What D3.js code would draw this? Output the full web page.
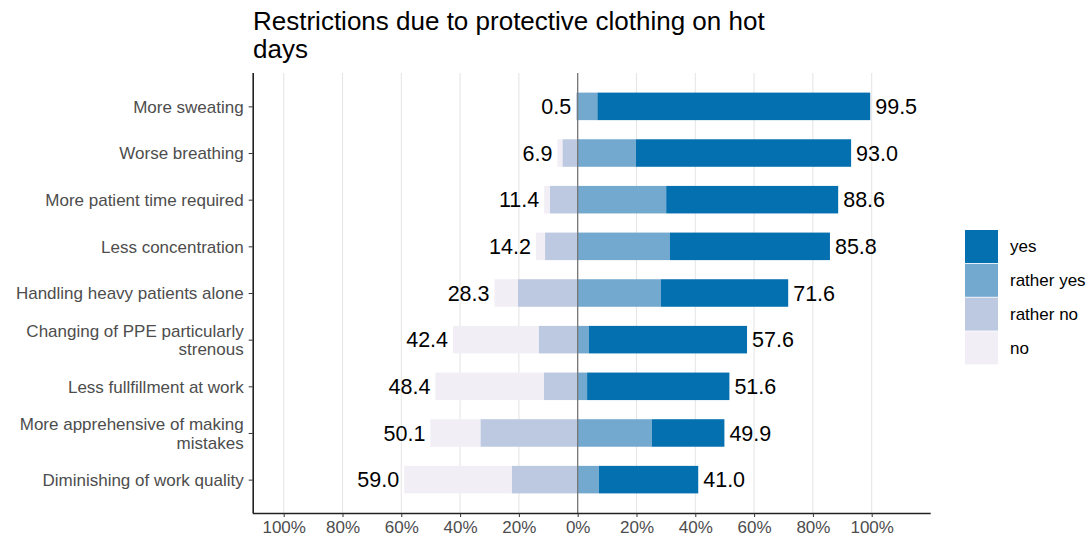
<!DOCTYPE html>
<html><head><meta charset="utf-8">
<script src="https://cdn.jsdelivr.net/npm/d3@7"></script>
<style>body{margin:0;background:#fff}svg{display:block;font-family:"Liberation Sans",Arial,sans-serif}</style>
</head><body><svg id="c" width="1091" height="543"></svg>
<script>
const categories = [
  ["More sweating"],
  ["Worse breathing"],
  ["More patient time required"],
  ["Less concentration"],
  ["Handling heavy patients alone"],
  ["Changing of PPE particularly", "strenous"],
  ["Less fullfillment at work"],
  ["More apprehensive of making", "mistakes"],
  ["Diminishing of work quality"]
];
const yes       = [92.8, 73.2, 58.5, 54.5, 43.3, 53.8, 48.4, 24.7, 33.8];
const ratherYes = [6.7, 19.8, 30.1, 31.3, 28.3, 3.8, 3.2, 25.2, 7.2];
const ratherNo  = [0.5, 5.2, 9.5, 11.1, 20.3, 13.3, 11.5, 33.1, 22.4];
const no        = [0, 1.7, 1.9, 3.1, 8.0, 29.1, 36.9, 17.0, 36.6];
const posLabels = ["99.5", "93.0", "88.6", "85.8", "71.6", "57.6", "51.6", "49.9", "41.0"];
const negLabels = ["0.5", "6.9", "11.4", "14.2", "28.3", "42.4", "48.4", "50.1", "59.0"];
const tickValues = [-100, -80, -60, -40, -20, 0, 20, 40, 60, 80, 100];
const legendLabels = ["yes", "rather yes", "rather no", "no"];
const colors = {"yes": "#0570b0", "rather yes": "#74a9cf", "rather no": "#bdc9e1", "no": "#f1eef6"};
const title = ["Restrictions due to protective clothing on hot", "days"];

const svg = d3.select("#c");
const L = 252.7, R = 930.7, T = 73, B = 513;
const x = d3.scaleLinear().domain([-110.54, 120.07]).range([L, R]);
const keys = categories.map((c, i) => i);
const y = d3.scalePoint().domain(keys).range([T, B]).padding(0.715);
const bh = y.step() * 0.59;

// title
svg.append("g").selectAll("text").data(title).join("text")
  .attr("x", 253).attr("y", (d, i) => 29.5 + i * 28.5)
  .attr("font-size", 26).attr("fill", "#000").text(d => d);

// gridlines
svg.append("g").selectAll("line").data(tickValues).join("line")
  .attr("x1", d => x(d)).attr("x2", d => x(d)).attr("y1", T).attr("y2", B)
  .attr("stroke", "#e6e6e6").attr("stroke-width", 1.1);

// bars
const segs = [];
keys.forEach(i => {
  segs.push({i, k: "rather yes", x0: 0, x1: ratherYes[i]});
  segs.push({i, k: "yes", x0: ratherYes[i], x1: ratherYes[i] + yes[i]});
  segs.push({i, k: "rather no", x0: -ratherNo[i], x1: 0});
  segs.push({i, k: "no", x0: -ratherNo[i] - no[i], x1: -ratherNo[i]});
});
svg.append("g").selectAll("rect").data(segs.filter(s => s.x1 > s.x0)).join("rect")
  .attr("x", d => x(d.x0)).attr("width", d => x(d.x1) - x(d.x0))
  .attr("y", d => y(d.i) - bh / 2).attr("height", bh)
  .attr("fill", d => colors[d.k]);

// zero line
svg.append("line").attr("x1", x(0)).attr("x2", x(0)).attr("y1", T).attr("y2", B)
  .attr("stroke", "#6e6e6e").attr("stroke-width", 1.2);

// value labels
svg.append("g").selectAll("text").data(keys).join("text")
  .attr("x", i => x(ratherYes[i] + yes[i]) + 5).attr("y", i => y(i)).attr("dy", "0.36em")
  .attr("font-size", 21.5).attr("fill", "#000").text(i => posLabels[i]);
svg.append("g").selectAll("text").data(keys).join("text")
  .attr("x", i => x(-ratherNo[i] - no[i]) - 5).attr("y", i => y(i)).attr("dy", "0.36em")
  .attr("text-anchor", "end")
  .attr("font-size", 21.5).attr("fill", "#000").text(i => negLabels[i]);

// axes
const xAxis = d3.axisBottom(x).tickValues(tickValues).tickFormat(d => Math.abs(d) + "%").tickSize(4).tickPadding(4);
const gx = svg.append("g").attr("transform", `translate(0,${B})`).call(xAxis);
gx.select(".domain").attr("d", `M${L},0.5H${R}`).attr("stroke", "#222").attr("stroke-width", 1.6);
gx.selectAll(".tick line").attr("stroke", "#333");
gx.selectAll(".tick text").attr("font-size", 17).attr("fill", "#4d4d4d").attr("font-family", "Liberation Sans, Arial, sans-serif");

const yAxis = d3.axisLeft(y).tickSize(4).tickFormat("");
const gy = svg.append("g").attr("transform", `translate(${L},0)`).call(yAxis);
gy.select(".domain").attr("d", `M0.5,${T}V${B}`).attr("stroke", "#222").attr("stroke-width", 1.6);
gy.selectAll(".tick line").attr("stroke", "#333");
gy.selectAll(".tick").each(function(i) {
  const lines = categories[i];
  const t = d3.select(this).append("text").attr("x", -9).attr("text-anchor", "end")
    .attr("font-size", 17).attr("fill", "#4d4d4d");
  lines.forEach((s, j) => {
    t.append("tspan").attr("x", -9)
      .attr("y", (j - (lines.length - 1) / 2) * 18.5).attr("dy", "0.35em").text(s);
  });
});

// legend
const lg = svg.append("g").attr("transform", "translate(965,230)");
const li = lg.selectAll("g").data(legendLabels).join("g")
  .attr("transform", (d, i) => `translate(0,${i * 33.8})`);
li.append("rect").attr("width", 33).attr("height", 33).attr("fill", d => colors[d]);
li.append("text").attr("x", 45).attr("y", 16.5).attr("dy", "0.35em")
  .attr("font-size", 17).attr("fill", "#000").text(d => d);
</script></body></html>
